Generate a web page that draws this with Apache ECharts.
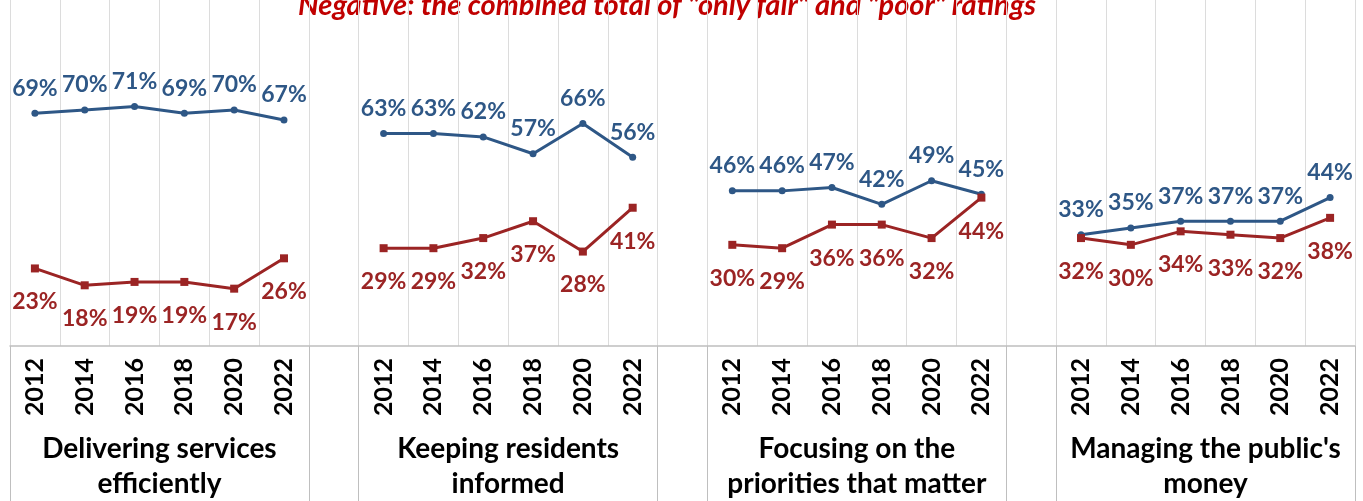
<!DOCTYPE html>
<html>
<head>
<meta charset="utf-8">
<script src="https://cdn.jsdelivr.net/npm/echarts@6/dist/echarts.min.js"></script>
<style>
  html, body { margin: 0; padding: 0; background: #fff; }
  #chart { width: 1363px; height: 501px; }
</style>
</head>
<body>
<div id="chart"></div>
<script>
// years shown under each group
var years = ["2012", "2014", "2016", "2018", "2020", "2022"];
var groups = [
  "Delivering services\nefficiently",
  "Keeping residents\ninformed",
  "Focusing on the\npriorities that matter",
  "Managing the public's\nmoney"
];
// positive ratings (blue) per group
var blue1 = [69, 70, 71, 69, 70, 67];
var blue2 = [63, 63, 62, 57, 66, 56];
var blue3 = [46, 46, 47, 42, 49, 45];
var blue4 = [33, 35, 37, 37, 37, 44];
// negative ratings (red) per group
var red1 = [23, 18, 19, 19, 17, 26];
var red2 = [29, 29, 32, 37, 28, 41];
var red3 = [30, 29, 36, 36, 32, 44];
var red4 = [32, 30, 34, 33, 32, 38];

var BLUE = "#2e5786";
var RED = "#9b2424";
var FONT = "Lato";

// join groups with one empty category between them
function joinGroups(arrs, gap) {
  var out = [];
  arrs.forEach(function (a, i) {
    if (i > 0) out.push(gap);
    out = out.concat(a);
  });
  return out;
}
var cats = joinGroups([years, years, years, years], "");
var blueData = joinGroups([blue1, blue2, blue3, blue4], null);
var redData = joinGroups([red1, red2, red3, red4], null);

// second axis sits on boundaries (28 points), group name at each group centre
var groupCats = [];
for (var i = 0; i <= cats.length; i++) groupCats.push("");
groups.forEach(function (g, i) { groupCats[3 + i * 7] = g; });
var separators = [0, 6, 7, 13, 14, 20, 21, 27];

var chart = echarts.init(document.getElementById("chart"));
chart.setOption({
  animation: false,
  grid: { left: 10, right: 8, top: 0, bottom: 150 },
  graphic: [{
    type: "text",
    x: 667,
    y: 6,
    style: {
      text: "Negative: the combined total of \"only fair\" and \"poor\" ratings",
      font: "italic bold 29px " + FONT,
      fill: "#c00000",
      textAlign: "center",
      textVerticalAlign: "middle"
    }
  }],
  xAxis: [
    {
      type: "category",
      data: cats,
      boundaryGap: true,
      axisLine: { show: true, lineStyle: { color: "#bfbfbf", width: 1.5 } },
      axisTick: { show: false },
      splitLine: { show: true, interval: 0, lineStyle: { color: "#dcdcdc", width: 1 } },
      axisLabel: {
        interval: 0,
        rotate: 90,
        margin: 12,
        color: "#000",
        fontFamily: FONT,
        fontWeight: "bold",
        fontSize: 25
      }
    },
    {
      type: "category",
      data: groupCats,
      boundaryGap: false,
      position: "bottom",
      axisLine: { show: false },
      axisTick: {
        show: true,
        length: 160,
        interval: function (idx) { return separators.indexOf(idx) >= 0; },
        lineStyle: { color: "#bfbfbf", width: 1 }
      },
      splitLine: { show: false },
      axisLabel: {
        interval: 0,
        margin: 85,
        color: "#000",
        fontFamily: FONT,
        fontWeight: "bold",
        fontSize: 28,
        lineHeight: 35,
        align: "center"
      }
    }
  ],
  yAxis: {
    type: "value",
    min: 0,
    max: 102.6,
    show: false,
    splitLine: { show: false }
  },
  series: [
    {
      name: "Positive",
      type: "line",
      data: blueData,
      connectNulls: false,
      symbol: "circle",
      symbolSize: 7,
      lineStyle: { color: BLUE, width: 3 },
      itemStyle: { color: BLUE },
      label: {
        show: true,
        position: "top",
        distance: 10,
        formatter: "{c}%",
        color: BLUE,
        fontFamily: FONT,
        fontWeight: "bold",
        fontSize: 23
      }
    },
    {
      name: "Negative",
      type: "line",
      data: redData,
      connectNulls: false,
      symbol: "rect",
      symbolSize: 8,
      lineStyle: { color: RED, width: 3 },
      itemStyle: { color: RED },
      label: {
        show: true,
        position: "bottom",
        distance: 18,
        formatter: "{c}%",
        color: RED,
        fontFamily: FONT,
        fontWeight: "bold",
        fontSize: 23
      }
    }
  ]
});
</script>
</body>
</html>
